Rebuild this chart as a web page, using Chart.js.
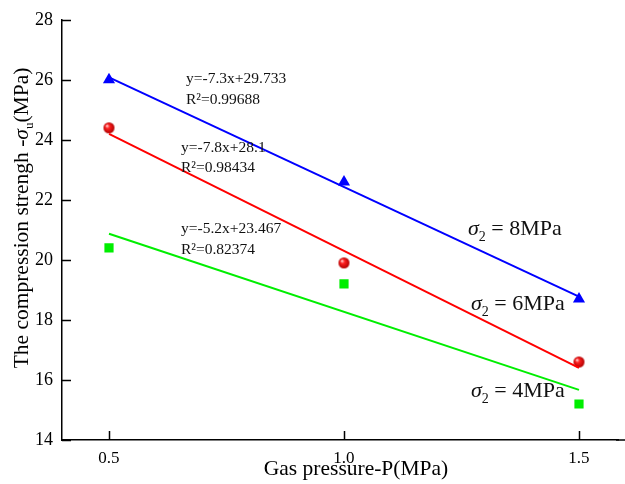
<!DOCTYPE html>
<html>
<head>
<meta charset="utf-8">
<script src="https://cdn.jsdelivr.net/npm/chart.js@4.4.1/dist/chart.umd.min.js"></script>
<style>
  html, body { margin: 0; padding: 0; background: #fff; }
  #c { display: block; }
</style>
</head>
<body>
<canvas id="c" width="625" height="484"></canvas>
<script>
// gas pressure (MPa)
const pressure = [0.5, 1.0, 1.5];
// compression strength at each confining stress
const s8 = [26.0, 22.6, 18.7];
const s6 = [24.4, 19.9, 16.6];
const s4 = [20.4, 19.2, 15.2];
// fitted line end values at 0.5 and 1.5 MPa
const fitX = [0.5, 1.5];
const fit8 = [26.08, 18.78];
const fit6 = [24.2, 16.4];
const fit4 = [20.87, 15.67];
// fit equations
const eq8 = ['y=-7.3x+29.733', 'R²=0.99688'];
const eq6 = ['y=-7.8x+28.1', 'R²=0.98434'];
const eq4 = ['y=-5.2x+23.467', 'R²=0.82374'];
const xTicks = [0.5, 1.0, 1.5];

const serif = '"Liberation Serif", "Times New Roman", serif';
const BLUE = '#0000ff', RED = '#ff0000', GREEN = '#00ee00';

function pts(xs, ys) {
  return xs.map((x, i) => ({ x: x, y: ys[i] }));
}

// little red ball like the original marker
function sphere(r) {
  const c = document.createElement('canvas');
  c.width = c.height = 2 * r + 2;
  const g = c.getContext('2d');
  const m = r + 1;
  const grad = g.createRadialGradient(m - r * 0.4, m - r * 0.4, 0.3, m, m, r);
  grad.addColorStop(0, '#ffe0e0');
  grad.addColorStop(0.35, '#ff2020');
  grad.addColorStop(1, '#b00000');
  g.fillStyle = grad;
  g.beginPath();
  g.arc(m, m, r, 0, Math.PI * 2);
  g.fill();
  return c;
}

function lineSet(data, color) {
  return {
    type: 'line', data: data, borderColor: color, borderWidth: 2,
    pointRadius: 0, fill: false, showLine: true
  };
}

function pointSet(data, color, style, r) {
  return {
    type: 'scatter', data: data, backgroundColor: color, borderColor: color,
    borderWidth: 0, pointStyle: style, pointRadius: r, showLine: false
  };
}

const annotations = {
  id: 'annotations',
  afterDraw(chart) {
    const ctx = chart.ctx;
    const xs = chart.scales.x, ys = chart.scales.y;
    ctx.save();

    // inward tick marks, and the bottom axis running on to the edge
    ctx.strokeStyle = '#000';
    ctx.lineWidth = 1.5;
    ctx.beginPath();
    for (const v of xTicks) {
      const px = Math.round(xs.getPixelForValue(v)) + 0.5;
      ctx.moveTo(px, ys.bottom);
      ctx.lineTo(px, ys.bottom - 9);
    }
    for (let v = 14; v <= 28; v += 2) {
      const py = Math.round(ys.getPixelForValue(v)) + 0.5;
      ctx.moveTo(xs.left, py);
      ctx.lineTo(xs.left + 9, py);
    }
    ctx.moveTo(xs.right - 2, ys.bottom);
    ctx.lineTo(chart.width, ys.bottom);
    ctx.stroke();

    // fit equations
    ctx.fillStyle = '#111';
    ctx.textBaseline = 'middle';
    ctx.textAlign = 'left';
    ctx.font = '15.5px ' + serif;
    ctx.fillText(eq8[0], 186, 79);
    ctx.fillText(eq8[1], 186, 100);
    ctx.fillText(eq6[0], 181, 148);
    ctx.fillText(eq6[1], 181, 168);
    ctx.fillText(eq4[0], 181, 229);
    ctx.fillText(eq4[1], 181, 250);

    // sigma labels
    ctx.textBaseline = 'alphabetic';
    const sig = (x, y, txt) => {
      ctx.font = 'italic 22px ' + serif;
      ctx.fillText('σ', x, y);
      let w = ctx.measureText('σ').width;
      ctx.font = '14px ' + serif;
      ctx.fillText('2', x + w, y + 6);
      w += ctx.measureText('2').width;
      ctx.font = '22px ' + serif;
      ctx.fillText(' = ' + txt, x + w, y);
    };
    sig(468, 235, '8MPa');
    sig(471, 310, '6MPa');
    sig(471, 397, '4MPa');

    // axis titles
    ctx.fillStyle = '#000';
    ctx.font = '21.5px ' + serif;
    ctx.textAlign = 'center';
    ctx.fillText('Gas pressure-P(MPa)', 356, 475);

    ctx.translate(28, 218);
    ctx.rotate(-Math.PI / 2);
    ctx.textAlign = 'left';
    const parts = [
      ['The compression strengh -', '21.5px ' + serif, 0],
      ['σ', 'italic 21.5px ' + serif, 0],
      ['u', '13px ' + serif, 5],
      ['(MPa)', '21.5px ' + serif, 0]
    ];
    let total = 0;
    for (const p of parts) { ctx.font = p[1]; total += ctx.measureText(p[0]).width; }
    let x = -total / 2;
    for (const p of parts) {
      ctx.font = p[1];
      ctx.fillText(p[0], x, p[2]);
      x += ctx.measureText(p[0]).width;
    }
    ctx.restore();
  }
};

new Chart(document.getElementById('c'), {
  data: {
    datasets: [
      lineSet(pts(fitX, fit8), BLUE),
      lineSet(pts(fitX, fit6), RED),
      lineSet(pts(fitX, fit4), GREEN),
      pointSet(pts(pressure, s8), BLUE, 'triangle', 7),
      pointSet(pts(pressure, s6), RED, sphere(5.5), 5.5),
      pointSet(pts(pressure, s4), GREEN, 'rect', 6.5)
    ]
  },
  options: {
    responsive: false,
    animation: false,
    layout: { padding: { top: 19, right: 0, left: 0, bottom: 0 } },
    plugins: { legend: { display: false }, tooltip: { enabled: false } },
    scales: {
      x: {
        type: 'linear', position: 'bottom', min: 0.4, max: 1.583,
        grid: { display: false, drawTicks: false },
        border: { display: true, color: '#000', width: 1.5 },
        ticks: {
          color: '#000', font: { family: serif, size: 17 }, padding: 8,
          callback: v => Number(v).toFixed(1)
        },
        afterBuildTicks: s => { s.ticks = xTicks.map(v => ({ value: v })); },
        afterFit: s => { s.height = 44; }
      },
      y: {
        type: 'linear', min: 14, max: 28,
        grid: { display: false, drawTicks: false },
        border: { display: true, color: '#000', width: 1.5 },
        ticks: { stepSize: 2, color: '#000', font: { family: serif, size: 18 }, padding: 9 },
        afterFit: s => { s.width = 62; }
      }
    }
  },
  plugins: [annotations]
});
</script>
</body>
</html>
